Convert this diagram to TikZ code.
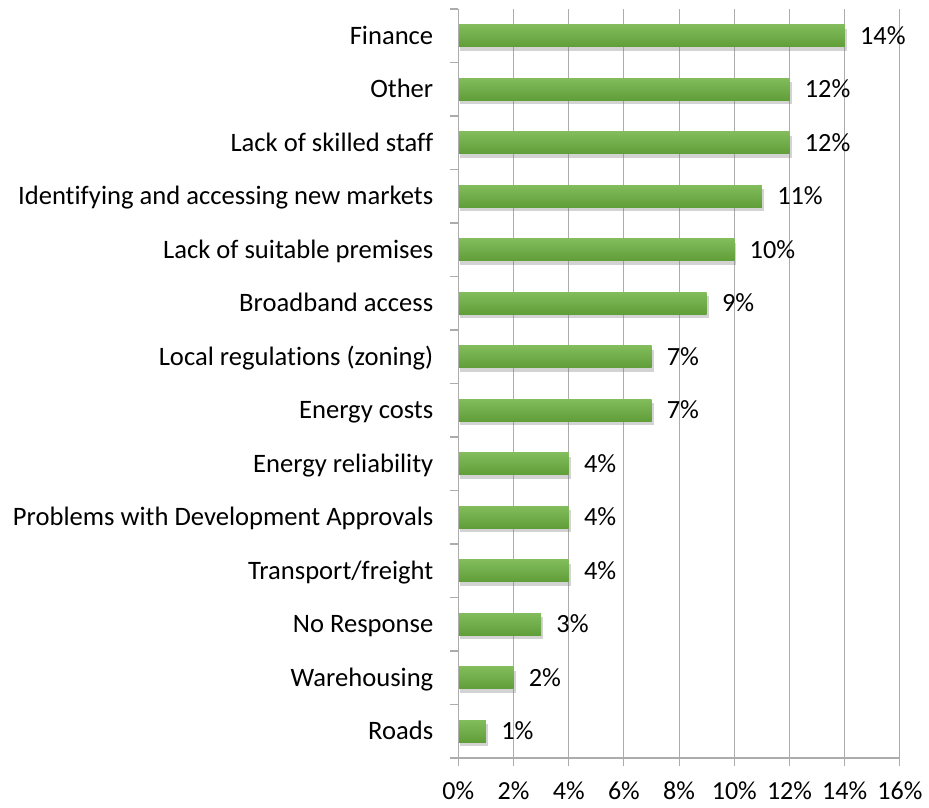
\documentclass[tikz,border=0pt]{standalone}
\usepackage{fontspec}
\setmainfont{Carlito}[Ligatures=NoCommon]
\usepackage{tikz}
\usetikzlibrary{shadows}

\definecolor{barlight}{RGB}{130,188,92}
\definecolor{bardark}{RGB}{96,158,56}
\definecolor{gridgray}{RGB}{172,172,172}

\begin{document}
\begin{tikzpicture}[x=1pt,y=-1pt]
  \useasboundingbox (0,0) rectangle (929,807);
  \begin{scope}[shift={(458.3,9)},x=27.6pt,y=-53.5pt,
      gridline/.style={draw=gridgray,line width=1.1pt},
      bar/.style={top color=barlight,bottom color=bardark,
        drop shadow={opacity=0.35,shadow xshift=2pt,shadow yshift=-4pt}},
      catlabel/.style={anchor=base east,inner sep=0pt,font=\fontsize{26.6}{32}\selectfont},
      vallabel/.style={anchor=base west,inner sep=0pt,font=\fontsize{26.3}{32}\selectfont},
      ticklabel/.style={anchor=base,inner sep=0pt,font=\fontsize{26}{32}\selectfont}]
    % grid and ticks
    \foreach \g in {2,4,...,16}
      \draw[gridline] (\g,0) -- (\g,14);
    \foreach \g in {0,2,...,16} {
      \draw[gridline] (\g,14) -- (\g,14.15);
      \node[ticklabel] (tick\g) at (\g,14.77) {\g\%};
    }
    \foreach \r in {0,...,14}
      \draw[gridline] (-0.29,\r) -- (0,\r);
    % bars
    \foreach \v/\name [count=\i from 0] in {14/Finance,12/Other,12/Lack of skilled staff,
        11/Identifying and accessing new markets,10/Lack of suitable premises,
        9/Broadband access,7/Local regulations (zoning),7/Energy costs,
        4/Energy reliability,4/Problems with Development Approvals,
        4/{Transport/freight},3/No Response,2/Warehousing,1/Roads} {
      \path[bar] (0,\i+0.295) rectangle (\v,\i+0.705);
      \node[catlabel] (cat\i) at (-0.9,\i+0.655) {\name};
      \node[vallabel] (val\i) at (\v+0.55,\i+0.655) {\v\%};
    }
    \draw[gridline] (0,0) -- (0,14) -- (16,14);
  \end{scope}
\end{tikzpicture}
\end{document}
